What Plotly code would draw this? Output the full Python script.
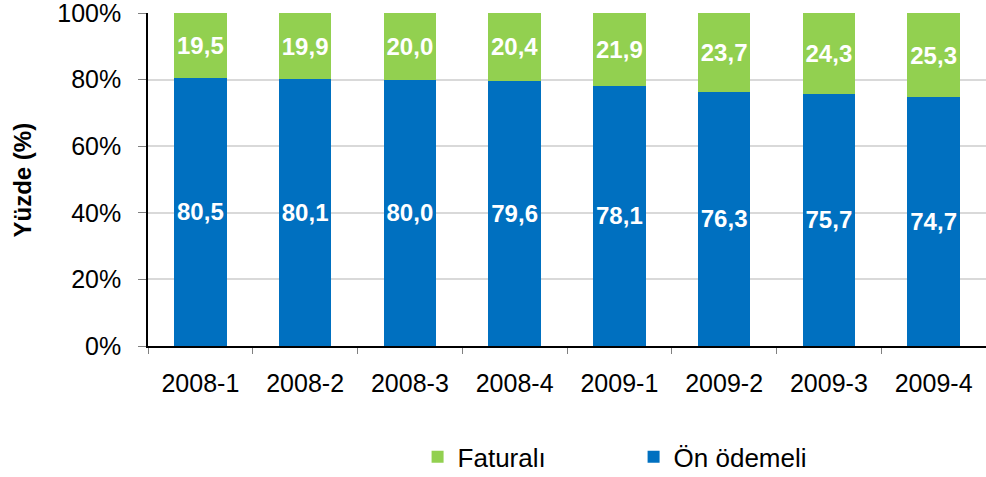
import plotly.graph_objects as go

categories = ["2008-1", "2008-2", "2008-3", "2008-4", "2009-1", "2009-2", "2009-3", "2009-4"]
on_odemeli = [80.5, 80.1, 80.0, 79.6, 78.1, 76.3, 75.7, 74.7]
faturali = [19.5, 19.9, 20.0, 20.4, 21.9, 23.7, 24.3, 25.3]
y_ticks = [0, 20, 40, 60, 80, 100]
y_ticktext = ["0%", "20%", "40%", "60%", "80%", "100%"]

def fmt(v):
    return f"{v:.1f}".replace(".", ",")

FONT = "Liberation Sans, Arial, sans-serif"
fs = 25
lab = 24

W, H = 986, 477
L, T, B, R = 148, 13, 131, 0
PW = W - L - R

fig = go.Figure()
fig.add_trace(go.Bar(
    x=categories, y=on_odemeli, name="Ön ödemeli",
    marker=dict(color="#0070C0", line=dict(width=0)),
    text=[fmt(v) for v in on_odemeli], textposition="inside", insidetextanchor="middle",
    textfont=dict(color="white", size=lab, family=FONT, weight="bold"),
    textangle=0, constraintext="none",
))
fig.add_trace(go.Bar(
    x=categories, y=faturali, name="Faturalı",
    marker=dict(color="#92D050", line=dict(width=0)),
    text=[fmt(v) for v in faturali], textposition="inside", insidetextanchor="middle",
    textfont=dict(color="white", size=lab, family=FONT, weight="bold"),
    textangle=0, constraintext="none",
))

fig.update_layout(
    barmode="stack",
    bargap=0.5,
    width=W, height=H,
    margin=dict(l=L, r=R, t=T, b=B, autoexpand=False),
    paper_bgcolor="white", plot_bgcolor="white",
    font=dict(family=FONT, size=fs, color="black"),
    uniformtext=dict(minsize=lab, mode="show"),
    showlegend=True,
    legend=dict(
        orientation="h", traceorder="reversed",
        x=0.3217, xanchor="left", y=-0.333, yanchor="middle",
        font=dict(size=26, family=FONT, color="black"),
        entrywidth=171, entrywidthmode="pixels",
        itemsizing="constant",
    ),
    xaxis=dict(
        type="category", automargin=False,
        showline=True, linecolor="black", linewidth=1.5,
        ticks="outside", tickson="boundaries", ticklen=6, tickcolor="#808080",
        tickfont=dict(size=fs, family=FONT, color="black"),
        ticklabelstandoff=14,
        showgrid=False,
    ),
    yaxis=dict(
        range=[0, 100.01], tickvals=y_ticks, ticktext=y_ticktext,
        automargin=False, ticklabeloverflow="allow",
        showline=True, linecolor="black", linewidth=1.5,
        ticks="outside", ticklen=8, tickcolor="#808080",
        tickfont=dict(size=fs, family=FONT, color="black"),
        ticklabelstandoff=12,
        showgrid=True, gridcolor="#D9D9D9", gridwidth=1.5,
        zeroline=False,
    ),
    annotations=[dict(
        text="<b>Yüzde (%)</b>", textangle=-90,
        xref="paper", yref="paper", x=-(L - 22) / PW, y=0.5,
        xanchor="center", yanchor="middle", showarrow=False,
        font=dict(size=24, family=FONT, color="black"),
    )],
)

fig.write_html(
    "out.html",
    config={"displayModeBar": False},
    post_script="document.body.style.margin='0';",
)
